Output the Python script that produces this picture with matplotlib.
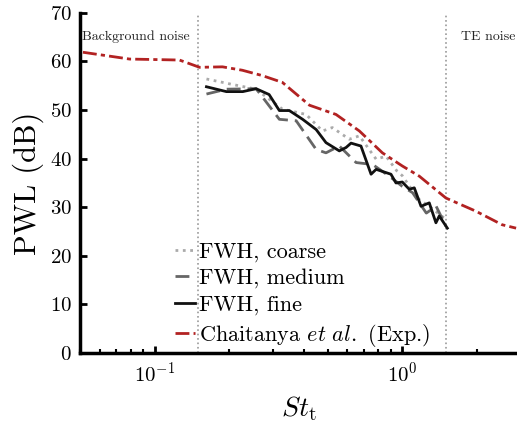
import numpy as np
import matplotlib
matplotlib.use("Agg")
import matplotlib.pyplot as plt
from matplotlib.ticker import LogLocator, NullFormatter

plt.rcParams['font.family'] = 'serif'
plt.rcParams['font.serif'] = ['cmr10']
plt.rcParams['mathtext.fontset'] = 'cm'
plt.rcParams['axes.formatter.use_mathtext'] = True
plt.rcParams['axes.unicode_minus'] = False

# Chaitanya et al. experiment
st_exp = [0.0514, 0.0793, 0.126, 0.152, 0.188, 0.226, 0.272, 0.328, 0.422,
          0.540, 0.671, 0.831, 1.0, 1.171, 1.50, 1.98, 2.53, 2.88]
pwl_exp = [61.9, 60.5, 60.3, 58.8, 58.9, 58.2, 57.1, 55.7, 51.0,
           49.1, 45.7, 41.2, 38.5, 36.4, 31.9, 29.2, 26.4, 25.7]

# FWH, coarse grid
st_coarse = [0.162, 0.205, 0.257, 0.328, 0.409, 0.476, 0.522, 0.611, 0.671,
             0.784, 0.86, 0.95, 1.0, 1.08, 1.17, 1.3, 1.5]
pwl_coarse = [56.4, 55.3, 54.3, 50.2, 49.1, 45.7, 46.4, 44.0, 44.7,
              39.9, 40.5, 37.5, 36.5, 34.0, 31.6, 30.0, 27.5]

# FWH, medium grid
st_medium = [0.162, 0.195, 0.257, 0.319, 0.373, 0.449, 0.492, 0.557, 0.651,
             0.759, 0.886, 1.0, 1.1, 1.25, 1.37, 1.5]
pwl_medium = [53.3, 54.3, 54.4, 48.1, 47.8, 41.9, 41.2, 42.6, 39.2,
              38.8, 36.4, 34.3, 33.0, 28.8, 30.2, 26.1]

# FWH, fine grid
st_fine = [0.162, 0.195, 0.227, 0.257, 0.29, 0.319, 0.35, 0.396, 0.449,
           0.492, 0.557, 0.593, 0.621, 0.681, 0.748, 0.784, 0.9, 0.943,
           1.0, 1.067, 1.118, 1.19, 1.285, 1.367, 1.41, 1.52]
pwl_fine = [54.8, 53.8, 53.8, 54.4, 53.2, 49.9, 49.9, 48.1, 46.0,
            43.3, 41.6, 42.3, 43.2, 42.6, 36.8, 37.8, 36.8, 35.0,
            35.2, 33.7, 34.0, 30.2, 30.9, 26.8, 28.2, 25.7]

region_limits = [0.15, 1.5]

fig = plt.figure(figsize=(5.17, 4.30), dpi=100)
ax = fig.add_axes([0.1547, 0.179, 0.845, 0.791])

for xv in region_limits:
    ax.axvline(xv, color='#999999', ls=':', lw=1.2)

ax.plot(st_coarse, pwl_coarse, ls=':', color='#aaaaaa', lw=2, label='FWH, coarse')
ax.plot(st_medium, pwl_medium, ls=(0, (5, 2.5)), color='#666666', lw=2, label='FWH, medium')
ax.plot(st_fine, pwl_fine, ls='-', color='#111111', lw=2, label='FWH, fine')
ax.plot(st_exp, pwl_exp, ls=(0, (5, 1.5, 1.5, 1.5)), color='#b22222', lw=2,
        label=r'Chaitanya $\mathit{et\ al.}$ (Exp.)')

ax.text(0.051, 65, 'Background noise', fontsize=10, va='center', ha='left', color='#222222')
ax.text(1.73, 65, 'TE noise', fontsize=10, va='center', ha='left', color='#222222')

ax.set_xscale('log')
ax.set_xlim(0.05, 2.9)
ax.set_ylim(0, 70)
ax.set_yticks(np.arange(0, 71, 10))
ax.xaxis.set_minor_locator(LogLocator(base=10, subs=np.arange(2, 10)))
ax.xaxis.set_minor_formatter(NullFormatter())

ax.spines['top'].set_visible(False)
ax.spines['right'].set_visible(False)
ax.spines['left'].set_linewidth(2.5)
ax.spines['bottom'].set_linewidth(2.5)
ax.tick_params(which='major', direction='in', length=5, width=2, labelsize=15, pad=6)
ax.tick_params(which='minor', direction='in', length=3, width=1.5)

ax.set_xlabel(r'$St_\mathrm{t}$', fontsize=20, labelpad=6)
ax.set_ylabel('PWL (dB)', fontsize=22, labelpad=4)

ax.legend(loc='lower left', bbox_to_anchor=(0.192, -0.02), frameon=False, fontsize=16,
          handlelength=0.9, handletextpad=0.2, labelspacing=0.3, borderpad=0)

fig.savefig('out.png', dpi=100)
